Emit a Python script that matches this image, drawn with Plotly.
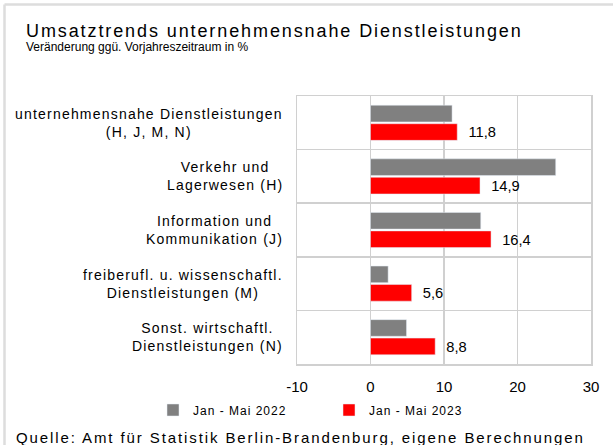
import plotly.graph_objects as go

# ---- data ----
categories = [
    "unternehmensnahe Dienstleistungen<br>(H, J, M, N)",
    "Verkehr und<br>Lagerwesen (H)",
    "Information und<br>Kommunikation (J)",
    "freiberufl. u. wissenschaftl.<br>Dienstleistungen (M)",
    "Sonst. wirtschaftl.<br>Dienstleistungen (N)",
]
series_names = ["Jan - Mai 2022", "Jan - Mai 2023"]
values_2022 = [11.1, 25.2, 15.0, 2.4, 4.9]
values_2023 = [11.8, 14.9, 16.4, 5.6, 8.8]
x_ticks = [-10, 0, 10, 20, 30]

title_text = "Umsatztrends unternehmensnahe Dienstleistungen"
subtitle_text = "Veränderung ggü. Vorjahreszeitraum in %"
source_text = "Quelle: Amt für Statistik Berlin-Brandenburg, eigene Berechnungen"

# ---- layout constants ----
W, H = 613, 445
ML, MR, MT, MB = 297, 22, 96, 81
PW, PH = W - ML - MR, H - MT - MB
FONT = "Liberation Sans, Arial, sans-serif"
GRID = "#d0d0d0"


def px_x(px):
    return (px - ML) / PW


def px_y(py):
    return (H - MB - py) / PH


def ls(text, sp):
    return f'<span style="letter-spacing:{sp}px">{text}</span>'


def fmt(v):
    return f"{v:.1f}".replace(".", ",")


fig = go.Figure()
fig.add_trace(go.Bar(
    y=categories, x=values_2022, orientation="h",
    name=ls(series_names[0], 1), marker=dict(color="#808080"),
    hoverinfo="skip",
))
fig.add_trace(go.Bar(
    y=categories, x=values_2023, orientation="h",
    name=ls(series_names[1], 1), marker=dict(color="#ff0000"),
    text=["\u00a0\u00a0" + fmt(v) for v in values_2023],
    textposition="outside", cliponaxis=False,
    textfont=dict(family=FONT, size=15, color="#000000"),
    hoverinfo="skip",
))

annotations = []
for c in categories:
    annotations.append(dict(
        xref="paper", yref="y", x=px_x(285), y=c,
        xanchor="right", yanchor="middle", align="center",
        text=ls(c, 1.2), showarrow=False,
        font=dict(family=FONT, size=14, color="#000000"),
    ))
annotations += [
    dict(xref="paper", yref="paper", x=px_x(24), y=px_y(31),
         xanchor="left", yanchor="middle", showarrow=False,
         text=ls(title_text, 1.9),
         font=dict(family=FONT, size=18, color="#000000")),
    dict(xref="paper", yref="paper", x=px_x(24), y=px_y(47),
         xanchor="left", yanchor="middle", showarrow=False,
         text=subtitle_text,
         font=dict(family=FONT, size=12, color="#000000")),
    dict(xref="paper", yref="paper", x=px_x(14), y=px_y(437),
         xanchor="left", yanchor="middle", showarrow=False,
         text=ls(source_text, 1.9),
         font=dict(family=FONT, size=15, color="#000000")),
]

shapes = [
    dict(type="line", xref="paper", yref="paper",
         x0=px_x(4.5), x1=px_x(4.5), y0=px_y(4.5), y1=px_y(H + 5),
         line=dict(color="#dddddd", width=2.5)),
    dict(type="line", xref="paper", yref="paper",
         x0=px_x(4.5), x1=px_x(W + 5), y0=px_y(4.5), y1=px_y(4.5),
         line=dict(color="#dddddd", width=2.5)),
]

fig.update_layout(
    width=W, height=H,
    margin=dict(l=ML, r=MR, t=MT, b=MB, pad=0),
    paper_bgcolor="white", plot_bgcolor="white",
    barmode="group", bargap=0.31, bargroupgap=0.1,
    font=dict(family=FONT, color="#000000"),
    showlegend=True,
    legend=dict(
        orientation="h", xref="paper", yref="paper",
        x=px_x(153), y=px_y(410), xanchor="left", yanchor="middle",
        font=dict(family=FONT, size=12, color="#000000"),
        itemwidth=30, entrywidth=131, entrywidthmode="pixels",
        bgcolor="rgba(0,0,0,0)", traceorder="normal",
    ),
    xaxis=dict(
        range=[x_ticks[0], x_ticks[-1]], tickvals=x_ticks,
        ticktext=[str(t) for t in x_ticks],
        showgrid=True, gridcolor=GRID, gridwidth=1.5,
        zeroline=False, showline=True, linecolor=GRID, linewidth=1.5,
        mirror=True, ticks="", ticklabelstandoff=8,
        tickfont=dict(family=FONT, size=15, color="#000000"),
        fixedrange=True,
    ),
    yaxis=dict(
        type="category", categoryorder="array", categoryarray=categories,
        autorange="reversed", showticklabels=False,
        tickson="boundaries", ticks="",
        showgrid=True, gridcolor=GRID, gridwidth=1.5,
        showline=True, linecolor=GRID, linewidth=1.5, mirror=True,
        fixedrange=True,
    ),
    annotations=annotations,
    shapes=shapes,
)

fig.write_html(
    "out.html",
    config={"displayModeBar": False, "staticPlot": True},
    post_script="document.body.style.margin='0';document.body.style.overflow='hidden';",
)
